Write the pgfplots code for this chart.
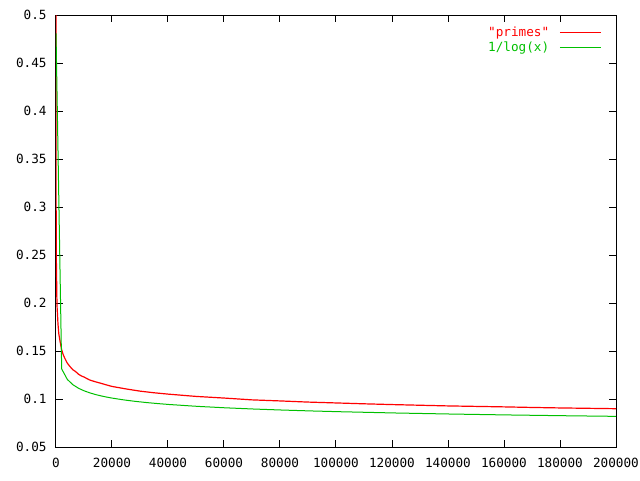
\documentclass[border=0pt]{standalone}
\usepackage{fontspec}
\setmainfont{DejaVu Sans Mono}[Ligatures=TeXOff]
\usepackage{pgfplots}
\pgfplotsset{compat=1.18}
\definecolor{gpred}{RGB}{255,0,0}
\definecolor{gpgreen}{RGB}{0,192,0}

\begin{document}
\begin{tikzpicture}
\useasboundingbox (-42pt,-24.75pt) rectangle (438pt,335.25pt);
\begin{axis}[
  at={(0,0)}, anchor=south west,
  scale only axis, width=420pt, height=324pt,
  xmin=0, xmax=200000, ymin=0.05, ymax=0.5,
  xtick={0,20000,...,200000},
  ytick={0.05,0.1,...,0.51},
  axis line style={line width=0.75pt},
  tick style={black, line width=0.75pt},
  major tick length=5.25pt,
  tick align=inside,
  font=\fontsize{9.5}{11.4}\selectfont,
  /pgf/number format/assume math mode=true,
  xticklabel style={/pgf/number format/fixed, /pgf/number format/1000 sep={}, yshift=-4.5pt},
  yticklabel style={/pgf/number format/fixed, /pgf/number format/precision=2, xshift=-3.5pt},
  scaled x ticks=false, scaled y ticks=false,
  legend plot pos=right,
  legend cell align=right,
  legend image code/.code={\draw[#1] (0pt,0pt) -- (31pt,0pt);},
  legend style={draw=none, fill=none, at={(1,1)}, anchor=north east,
    xshift=-10.5pt, yshift=-6.5pt, inner sep=0pt, row sep=-1.6pt,
    font=\fontsize{9.5}{11.4}\selectfont},
]
\addplot[gpred, line width=0.9pt] coordinates {
(2,0.5) (3,0.6667) (5,0.6) (7,0.5714) (10,0.4) (20,0.4) (30,0.3333) (50,0.3)
(100,0.25) (200,0.23) (300,0.2067) (400,0.195) (500,0.19) (700,0.1786)
(1000,0.168) (1500,0.1593) (2000,0.1515) (2500,0.1468) (3000,0.1433)
(4000,0.1375) (5000,0.1338) (6000,0.1305) (7000,0.1286) (8000,0.1259)
(9000,0.1241) (10000,0.1229) (12000,0.1198) (14000,0.1180) (16000,0.1164)
(18000,0.1147) (20000,0.1131) (25000,0.1105) (30000,0.1082) (35000,0.1065)
(40000,0.1051) (45000,0.1039) (50000,0.1027) (60000,0.1010) (70000,0.0991)
(80000,0.0980) (90000,0.0968) (100000,0.0959) (110000,0.0950) (120000,0.0942)
(130000,0.0935) (140000,0.0928) (150000,0.0923) (160000,0.0918)
(170000,0.0912) (180000,0.0907) (190000,0.0903) (200000,0.0899)
};
\addlegendentry{\textcolor{gpred}{"primes"}\rule{5.5pt}{0pt}}
\addplot[gpgreen, line width=0.75pt] coordinates {
(8,0.4809) (2028,0.13132) (4048,0.12039) (6068,0.11480) (8088,0.11113)
(10108,0.10845) (12128,0.10634) (14148,0.10463) (16168,0.10319)
(18188,0.10195) (20208,0.10087) (24248,0.09905) (28288,0.09756)
(32328,0.09630) (36368,0.09523) (40408,0.09428) (50508,0.09234)
(60608,0.09081) (70708,0.08955) (80808,0.08850) (90908,0.08758)
(101008,0.08678) (121208,0.08543) (141408,0.08432) (161608,0.08338)
(181808,0.08257) (200000,0.08193)
};
\addlegendentry{\textcolor{gpgreen}{1/log(x)}\rule{5.5pt}{0pt}}
\end{axis}
\end{tikzpicture}
\end{document}
